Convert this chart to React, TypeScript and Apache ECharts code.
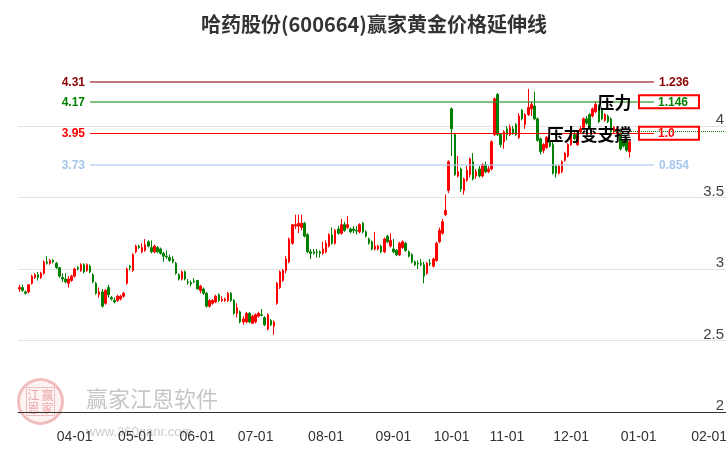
import React, { useEffect, useRef } from 'react';
import * as echarts from 'echarts';

const TITLE = '哈药股份(600664)赢家黄金价格延伸线';
const CATEGORY_COUNT = 231;
const HOLIDAYS = [
  '2024-04-04', '2024-04-05', '2024-05-01', '2024-05-02', '2024-05-03', '2024-06-10',
  '2024-09-16', '2024-09-17', '2024-10-01', '2024-10-02', '2024-10-03', '2024-10-04', '2024-10-07',
];

// [open, close, low, high]
const ohlc: number[][] = [
  [2.86, 2.87, 2.84, 2.89], [2.87, 2.85, 2.84, 2.89], [2.84, 2.83, 2.82, 2.85], [2.84, 2.89, 2.83, 2.89],
  [2.90, 2.95, 2.89, 2.96], [2.94, 2.96, 2.93, 2.97], [2.96, 2.94, 2.92, 2.98], [2.94, 2.97, 2.93, 2.98],
  [2.97, 3.05, 2.96, 3.06], [3.05, 3.04, 3.03, 3.09], [3.04, 3.06, 3.03, 3.07], [3.06, 3.05, 3.04, 3.07],
  [3.04, 3.01, 3.00, 3.05], [3.01, 2.95, 2.94, 3.01], [2.94, 2.93, 2.91, 2.97], [2.93, 2.91, 2.90, 2.97],
  [2.90, 2.93, 2.87, 2.95], [2.92, 2.95, 2.91, 2.96], [2.95, 3.00, 2.94, 3.01], [3.01, 3.00, 2.99, 3.02],
  [2.99, 3.03, 2.98, 3.04], [3.03, 2.98, 2.97, 3.04], [2.99, 3.03, 2.98, 3.04], [3.02, 2.98, 2.97, 3.03],
  [2.96, 2.91, 2.90, 2.97], [2.90, 2.83, 2.82, 2.91], [2.82, 2.84, 2.80, 2.87], [2.84, 2.74, 2.73, 2.86],
  [2.76, 2.85, 2.75, 2.86], [2.87, 2.82, 2.80, 2.89], [2.80, 2.79, 2.78, 2.81], [2.78, 2.77, 2.76, 2.80],
  [2.78, 2.81, 2.77, 2.82], [2.79, 2.81, 2.78, 2.82], [2.81, 2.83, 2.80, 2.84], [2.90, 3.00, 2.89, 3.01],
  [3.02, 3.01, 2.99, 3.03], [2.99, 3.10, 2.98, 3.11], [3.12, 3.16, 3.11, 3.17], [3.16, 3.15, 3.14, 3.17],
  [3.12, 3.15, 3.11, 3.18], [3.13, 3.17, 3.12, 3.21], [3.19, 3.16, 3.15, 3.20], [3.15, 3.12, 3.11, 3.20],
  [3.12, 3.16, 3.11, 3.17], [3.15, 3.12, 3.11, 3.16], [3.14, 3.11, 3.10, 3.15], [3.11, 3.09, 3.05, 3.12],
  [3.09, 3.085, 3.07, 3.13], [3.08, 3.06, 3.05, 3.10], [3.07, 3.05, 3.04, 3.09], [3.04, 2.97, 2.96, 3.05],
  [2.96, 2.93, 2.92, 2.97], [2.93, 2.98, 2.92, 2.99], [2.98, 2.93, 2.92, 2.99], [2.91, 2.905, 2.89, 2.93],
  [2.905, 2.895, 2.88, 2.92], [2.915, 2.91, 2.90, 2.935], [2.92, 2.86, 2.86, 2.92], [2.85, 2.88, 2.83, 2.89],
  [2.86, 2.83, 2.82, 2.87], [2.83, 2.74, 2.73, 2.84], [2.74, 2.78, 2.73, 2.79], [2.76, 2.78, 2.75, 2.79],
  [2.77, 2.81, 2.76, 2.82], [2.82, 2.78, 2.77, 2.83], [2.78, 2.79, 2.77, 2.81], [2.78, 2.79, 2.77, 2.80],
  [2.78, 2.83, 2.77, 2.84], [2.83, 2.78, 2.77, 2.84], [2.78, 2.69, 2.68, 2.79], [2.69, 2.73, 2.66, 2.76],
  [2.70, 2.63, 2.62, 2.71], [2.63, 2.65, 2.61, 2.67], [2.63, 2.69, 2.62, 2.70], [2.69, 2.63, 2.62, 2.70],
  [2.62, 2.67, 2.62, 2.68], [2.63, 2.68, 2.62, 2.69], [2.67, 2.69, 2.66, 2.70], [2.68, 2.675, 2.67, 2.72],
  [2.66, 2.61, 2.60, 2.67], [2.58, 2.68, 2.57, 2.69], [2.64, 2.61, 2.60, 2.65], [2.60, 2.63, 2.54, 2.64],
  [2.76, 2.90, 2.75, 2.91], [2.87, 2.98, 2.86, 2.99], [2.92, 2.99, 2.91, 3.00], [2.99, 3.07, 2.97, 3.09],
  [3.05, 3.21, 3.04, 3.22], [3.18, 3.31, 3.17, 3.31], [3.30, 3.31, 3.28, 3.38], [3.30, 3.32, 3.25, 3.38],
  [3.29, 3.32, 3.27, 3.38], [3.32, 3.23, 3.22, 3.33], [3.24, 3.12, 3.11, 3.25], [3.12, 3.11, 3.07, 3.14],
  [3.12, 3.11, 3.10, 3.14], [3.12, 3.115, 3.08, 3.14], [3.12, 3.11, 3.08, 3.13], [3.11, 3.14, 3.10, 3.19],
  [3.12, 3.18, 3.11, 3.20], [3.16, 3.24, 3.15, 3.25], [3.24, 3.18, 3.17, 3.29], [3.18, 3.27, 3.17, 3.28],
  [3.28, 3.25, 3.24, 3.30], [3.25, 3.31, 3.24, 3.35], [3.31, 3.27, 3.26, 3.33], [3.29, 3.31, 3.28, 3.37],
  [3.28, 3.26, 3.25, 3.29], [3.28, 3.27, 3.25, 3.30], [3.27, 3.265, 3.24, 3.30], [3.26, 3.31, 3.25, 3.32],
  [3.32, 3.26, 3.25, 3.33], [3.26, 3.23, 3.22, 3.27], [3.21, 3.18, 3.17, 3.22], [3.19, 3.14, 3.13, 3.20],
  [3.14, 3.16, 3.13, 3.26], [3.14, 3.16, 3.13, 3.17], [3.16, 3.12, 3.11, 3.17], [3.12, 3.21, 3.11, 3.22],
  [3.23, 3.19, 3.18, 3.24], [3.16, 3.20, 3.15, 3.25], [3.14, 3.12, 3.11, 3.21], [3.13, 3.10, 3.09, 3.14],
  [3.10, 3.18, 3.09, 3.19], [3.15, 3.19, 3.14, 3.20], [3.18, 3.13, 3.12, 3.19], [3.12, 3.09, 3.08, 3.13],
  [3.10, 3.05, 3.04, 3.11], [3.05, 3.03, 3.02, 3.06], [3.04, 3.035, 3.00, 3.06], [3.04, 3.03, 3.02, 3.07],
  [3.03, 2.95, 2.90, 3.05], [2.97, 3.04, 2.96, 3.05], [3.04, 3.035, 3.02, 3.07], [3.02, 3.07, 3.01, 3.08],
  [3.06, 3.18, 3.05, 3.19], [3.19, 3.27, 3.18, 3.29], [3.25, 3.33, 3.24, 3.35], [3.38, 3.41, 3.37, 3.52],
  [3.55, 3.75, 3.53, 3.76], [4.12, 3.98, 3.79, 4.13], [3.94, 3.66, 3.65, 3.95], [3.65, 3.68, 3.64, 3.79],
  [3.70, 3.56, 3.54, 3.71], [3.55, 3.63, 3.52, 3.64], [3.62, 3.69, 3.61, 3.72], [3.66, 3.77, 3.64, 3.78],
  [3.75, 3.63, 3.62, 3.81], [3.65, 3.68, 3.63, 3.70], [3.70, 3.65, 3.64, 3.72], [3.65, 3.73, 3.64, 3.74],
  [3.73, 3.68, 3.67, 3.75], [3.68, 3.70, 3.67, 3.72], [3.70, 3.89, 3.69, 3.90], [3.94, 4.19, 3.93, 4.20],
  [4.22, 3.94, 3.93, 4.23], [3.94, 3.87, 3.85, 3.95], [3.89, 3.96, 3.84, 3.97], [3.98, 3.94, 3.90, 4.00],
  [3.94, 3.99, 3.93, 4.01], [3.98, 3.95, 3.94, 4.00], [4.01, 3.94, 3.93, 4.02], [3.92, 4.07, 3.91, 4.09],
  [4.11, 4.05, 4.04, 4.12], [4.01, 4.08, 3.98, 4.09], [4.08, 4.13, 4.07, 4.26], [4.12, 4.15, 4.07, 4.17],
  [4.14, 4.05, 4.04, 4.24], [4.05, 3.90, 3.89, 4.06], [3.91, 3.82, 3.80, 3.92], [3.83, 3.87, 3.81, 3.88],
  [3.85, 3.92, 3.84, 3.93], [3.90, 3.86, 3.85, 3.93], [3.87, 3.67, 3.66, 3.89], [3.72, 3.67, 3.64, 3.73],
  [3.67, 3.72, 3.66, 3.73], [3.68, 3.75, 3.67, 3.76], [3.76, 3.81, 3.75, 3.82], [3.79, 3.87, 3.78, 3.88],
  [3.87, 3.94, 3.86, 3.95], [3.94, 3.91, 3.90, 3.96], [3.87, 3.95, 3.86, 3.96], [3.96, 3.98, 3.95, 4.00],
  [3.99, 4.05, 3.98, 4.06], [4.05, 4.02, 4.01, 4.07], [4.08, 3.99, 3.98, 4.09], [4.07, 4.12, 4.06, 4.13],
  [4.10, 4.15, 4.09, 4.17], [4.14, 4.03, 4.02, 4.15], [4.12, 4.05, 4.04, 4.13], [4.04, 4.08, 4.03, 4.09],
  [4.07, 4.03, 4.02, 4.08], [4.05, 3.96, 3.95, 4.06], [3.96, 3.99, 3.95, 4.00], [3.96, 3.98, 3.95, 3.99],
  [3.95, 3.84, 3.83, 3.96], [3.90, 3.86, 3.85, 3.91], [3.91, 3.83, 3.82, 3.92], [3.82, 3.89, 3.78, 3.90],
];

// golden extension levels: price and ratio
const LEVEL_PRICES = [4.31, 4.17, 3.95, 3.73];
const LEVEL_RATIOS = ['1.236', '1.146', '1.0', '0.854'];
const LEVEL_NOTES = ['', '压力', '压力变支撑', ''];
const LAST_PRICE = 3.96;
const Y_MIN = 2;
const Y_MAX = 4.5;
const Y_STEP = 0.5;

// layout / style (not data)
const LINE_START = 23;
const LINE_END = 207;
const NOTE_AT = 200;
const LAST_LINE_FROM = 193;
const LINE_COLORS = ['rgba(150,30,30,0.6)', 'rgba(40,150,40,0.6)', '#ff0000', 'rgba(170,200,238,0.6)'];
const TEXT_COLORS = ['#8b0000', '#008000', '#ff0000', '#a6c6ec'];
const LINE_WIDTHS = [2, 2, 1, 2];
const BOXED = [false, true, true, false];
const NARROW = '"Liberation Sans Narrow", "Liberation Sans", Arial, sans-serif';
const CJK = '"Noto Sans CJK SC", sans-serif';
const LAB = '"Liberation Sans", Arial, sans-serif';

function buildDates(): string[] {
  const out: string[] = [];
  const d = new Date(Date.UTC(2024, 2, 6));
  while (out.length < CATEGORY_COUNT) {
    const wd = d.getUTCDay();
    const iso = d.toISOString().slice(0, 10);
    if (wd !== 0 && wd !== 6 && HOLIDAYS.indexOf(iso) < 0) out.push(iso);
    d.setUTCDate(d.getUTCDate() + 1);
  }
  return out;
}

export default function App() {
  const ref = useRef<HTMLDivElement>(null);
  useEffect(() => {
    if (!ref.current) return;
    const chart = echarts.init(ref.current, undefined, { renderer: 'svg' });
    const dates = buildDates();
    const monthStart = dates.map((d, i) => i > 0 && d.slice(0, 7) !== dates[i - 1].slice(0, 7));
    const showAt = (i: number) => monthStart[i];

    const lineData: any[] = [];
    LEVEL_PRICES.forEach((v, i) => {
      lineData.push([
        {
          coord: [dates[LINE_START], v],
          lineStyle: { color: LINE_COLORS[i], width: LINE_WIDTHS[i], type: 'solid' },
          label: {
            show: true, position: 'start', distance: 5, formatter: v.toFixed(2),
            color: TEXT_COLORS[i], fontWeight: 'bold', fontSize: 12, fontFamily: LAB,
          },
        },
        { coord: [dates[LINE_END], v] },
      ]);
      const boxed = BOXED[i];
      lineData.push([
        {
          coord: [dates[LINE_START], v],
          lineStyle: { color: 'rgba(0,0,0,0)', width: 1 },
          label: boxed
            ? {
                show: true, position: 'end', distance: -15, formatter: LEVEL_RATIOS[i],
                color: TEXT_COLORS[i], fontWeight: 'bold', fontSize: 12, fontFamily: LAB,
                borderColor: '#ff0000', borderWidth: 2, padding: [1, 0, 0, 19], width: 41, lineHeight: 12,
              }
            : {
                show: true, position: 'end', distance: 5, formatter: LEVEL_RATIOS[i],
                color: TEXT_COLORS[i], fontWeight: 'bold', fontSize: 12, fontFamily: LAB,
              },
        },
        { coord: [dates[LINE_END], v] },
      ]);
    });
    lineData.push([
      { coord: [dates[LAST_LINE_FROM], LAST_PRICE], lineStyle: { color: '#008000', width: 1, type: 'dotted' }, label: { show: false } },
      { coord: [dates[CATEGORY_COUNT - 1], LAST_PRICE] },
    ]);

    const pointData: any[] = [];
    LEVEL_PRICES.forEach((v, i) => {
      if (!LEVEL_NOTES[i]) return;
      pointData.push({
        coord: [dates[NOTE_AT], v],
        label: {
          show: true, position: 'left', distance: 1, formatter: LEVEL_NOTES[i],
          color: '#000', fontSize: 17, fontWeight: 'bold', fontFamily: CJK,
        },
      });
    });

    chart.setOption({
      animation: false,
      title: {
        text: TITLE, left: 196, top: 8,
        textStyle: { fontSize: 20, fontWeight: 'bold', color: '#333', fontFamily: CJK },
      },
      grid: { left: 18, right: 0, top: 54.5, bottom: 38, containLabel: false, outerBoundsMode: 'none' },
      xAxis: {
        type: 'category', data: dates, boundaryGap: true,
        axisLine: { lineStyle: { color: '#333', width: 1 } },
        axisTick: { alignWithLabel: true, interval: (i: number) => showAt(i), length: 9, lineStyle: { color: '#333' } },
        axisLabel: {
          interval: (i: number) => showAt(i), formatter: (v: string) => v.slice(5, 7) + '-01',
          margin: 17, fontSize: 14, color: '#333', fontFamily: NARROW,
        },
        splitLine: { show: false },
      },
      yAxis: {
        type: 'value', position: 'right', min: Y_MIN, max: Y_MAX, interval: Y_STEP,
        axisLine: { show: false }, axisTick: { show: false },
        splitLine: { show: true, showMaxLine: false, showMinLine: false, lineStyle: { color: '#e3e3e3', width: 1 } },
        axisLabel: {
          inside: true, align: 'right', verticalAlign: 'bottom', margin: 2, showMaxLabel: false,
          fontSize: 15, color: '#444', fontFamily: NARROW,
        },
      },
      graphic: [
        {
          type: 'group', left: 17, top: 378, silent: true, z: 0,
          children: [
            { type: 'circle', shape: { cx: 23, cy: 23, r: 22 }, style: { fill: '#fdf3f3', stroke: '#f0bcbc', lineWidth: 3 } },
            { type: 'rect', shape: { x: 9, y: 9, width: 28, height: 28 }, style: { fill: 'none', stroke: '#f0bcbc', lineWidth: 1 } },
            { type: 'text', x: 10, y: 10, style: { text: '江', fontSize: 12, fill: '#eaa8a8', fontFamily: CJK } },
            { type: 'text', x: 24, y: 10, style: { text: '赢', fontSize: 12, fill: '#eaa8a8', fontFamily: CJK } },
            { type: 'text', x: 10, y: 23, style: { text: '恩', fontSize: 12, fill: '#eaa8a8', fontFamily: CJK } },
            { type: 'text', x: 24, y: 23, style: { text: '家', fontSize: 12, fill: '#eaa8a8', fontFamily: CJK } },
          ],
        },
        {
          type: 'text', left: 86, top: 386, silent: true, z: 0,
          style: { text: '赢家江恩软件', fontSize: 22, fill: '#c6c6c6', fontFamily: CJK },
        },
        {
          type: 'text', left: 86, top: 425, silent: true, z: 0,
          style: { text: 'www.360ganr.com', fontSize: 13, fill: '#cccccc', fontFamily: LAB },
        },
      ],
      series: [
        {
          type: 'candlestick',
          data: ohlc,
          barWidth: 2,
          itemStyle: {
            color: '#ff0000', color0: '#008000', borderColor: '#ff0000', borderColor0: '#008000', borderWidth: 1,
          },
          markLine: { symbol: ['none', 'none'], silent: true, animation: false, data: lineData },
          markPoint: {
            symbol: 'circle', symbolSize: 0, silent: true, animation: false,
            itemStyle: { color: 'transparent' }, data: pointData,
          },
        },
      ],
    });
    return () => chart.dispose();
  }, []);
  return <div ref={ref} style={{ position: 'fixed', left: 0, top: 0, width: 726, height: 450 }} />;
}
